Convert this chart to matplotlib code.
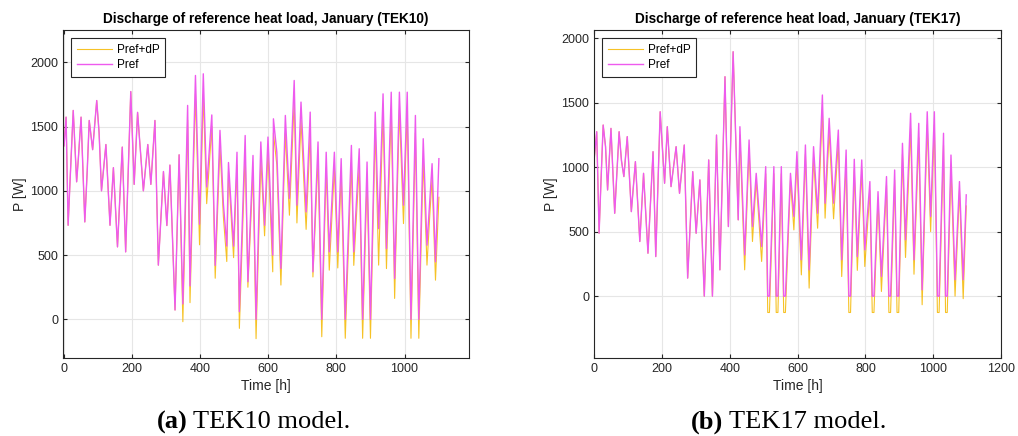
import numpy as np
import matplotlib.pyplot as plt

# TEK10: key hours, Pref and Pref+dP
t10 = [0, 6, 12, 18, 27, 37, 42, 50, 61, 68, 74, 84, 96, 103, 110, 123, 135, 145, 157, 171,
       181, 196, 206, 216, 233, 246, 255, 267, 277, 292, 302, 311, 326, 338, 349, 363, 370, 386,
       398, 409, 419, 434, 444, 458, 468, 478, 483, 498, 508, 515, 532, 540, 555, 564, 578, 589,
       599, 613, 615, 625, 637, 650, 662, 676, 684, 696, 711, 723, 731, 746, 757, 770, 779, 794,
       804, 814, 826, 844, 851, 867, 877, 890, 900, 914, 924, 937, 947, 961, 971, 985, 997, 1008,
       1019, 1032, 1042, 1055, 1066, 1074, 1081, 1091, 1101]
pref10 = [1350, 1573, 732, 1095, 1625, 1070, 1250, 1573, 758, 1150, 1547, 1320, 1702, 1450, 1000,
          1360, 732, 1180, 564, 1340, 525, 1772, 1050, 1610, 1000, 1360, 1050, 1547, 422, 1150,
          730, 1200, 73, 1280, 120, 1664, 260, 1897, 740, 1910, 1030, 1590, 420, 1470, 900, 570,
          1220, 570, 1300, 60, 1430, 293, 1275, 0, 1380, 732, 1418, 500, 1560, 1300, 396, 1586,
          940, 1858, 888, 1690, 836, 1612, 370, 1380, 0, 1300, 525, 1300, 525, 1250, 0, 1353, 525,
          1327, 0, 1224, 0, 1612, 706, 1754, 550, 1767, 318, 1767, 888, 1767, 0, 1586, 0, 1405,
          577, 913, 1211, 448, 1250]
prefdp10 = [1350, 1573, 732, 1095, 1625, 1070, 1250, 1573, 758, 1150, 1547, 1320, 1702, 1450, 1000,
            1360, 732, 1180, 564, 1340, 525, 1772, 1050, 1610, 1000, 1360, 1050, 1547, 422, 1150,
            730, 1200, 73, 1280, -18, 1550, 130, 1754, 580, 1750, 900, 1500, 320, 1350, 800, 450,
            1150, 480, 1200, -70, 1300, 250, 1150, -150, 1250, 650, 1300, 370, 1450, 1200, 267,
            1450, 810, 1700, 750, 1550, 700, 1450, 330, 1250, -135, 1180, 383, 1180, 400, 1130,
            -147, 1220, 420, 1200, -147, 1100, -147, 1480, 422, 1620, 395, 1630, 163, 1630, 745,
            1630, -147, 1450, -147, 1250, 422, 800, 1100, 305, 950]

# TEK17
t17 = [0, 3, 8, 15, 20, 27, 34, 40, 50, 61, 74, 81, 88, 98, 110, 122, 135, 146, 159, 174, 182,
       195, 208, 216, 227, 242, 252, 266, 276, 291, 301, 312, 325, 338, 349, 361, 371, 386, 396,
       410, 425, 430, 444, 457, 467, 478, 494, 506, 512, 517, 530, 537, 542, 552, 559, 564, 579,
       589, 598, 611, 623, 634, 647, 659, 673, 681, 693, 706, 720, 730, 743, 751, 756, 767, 776,
       789, 798, 813, 820, 825, 837, 847, 862, 869, 874, 886, 893, 898, 909, 918, 933, 943, 957,
       967, 982, 992, 1003, 1012, 1017, 1030, 1036, 1041, 1052, 1064, 1077, 1088, 1097]
pref17 = [1050, 1134, 1276, 488, 850, 1328, 1160, 824, 1302, 643, 1276, 1050, 928, 1238, 656, 1044,
          424, 953, 333, 1121, 307, 1431, 876, 1315, 850, 1160, 798, 1173, 140, 966, 488, 902, 0,
          1057, 0, 1250, 204, 1703, 540, 1897, 592, 1315, 320, 1212, 540, 953, 385, 1005, 0, 0,
          1005, 0, 0, 1005, 0, 0, 953, 618, 1121, 282, 1173, 204, 1160, 643, 1561, 721, 1380, 721,
          1289, 282, 1134, 0, 0, 1062, 307, 1057, 359, 889, 0, 0, 811, 152, 928, 0, 0, 979, 0, 0,
          1186, 437, 1419, 282, 1341, 49, 1431, 618, 1431, 0, 0, 1264, 0, 0, 1095, 127, 889, 127,
          786]
prefdp17 = [1050, 1134, 1276, 488, 850, 1328, 1160, 824, 1302, 643, 1276, 1050, 928, 1238, 656,
            1044, 424, 953, 333, 1121, 307, 1431, 876, 1315, 850, 1160, 798, 1173, 140, 966, 488,
            902, 0, 1057, 0, 1250, 204, 1703, 540, 1897, 592, 1250, 204, 1150, 424, 900, 269, 950,
            -127, -127, 950, -127, -127, 950, -127, -127, 900, 514, 1050, 165, 1100, 62, 1080, 527,
            1450, 605, 1280, 600, 1200, 152, 1050, -127, -127, 980, 200, 980, 230, 820, -127, -127,
            750, 36, 860, -127, -127, 900, -127, -127, 1100, 300, 1300, 170, 1230, -67, 1330, 501,
            1330, -127, -127, 1170, -127, -127, 1000, 0, 820, -20, 700]

plt.rcParams['font.family'] = ['Liberation Sans', 'DejaVu Sans']

fig = plt.figure(figsize=(10.18, 4.36), dpi=100)
ax1 = fig.add_axes([0.0619, 0.179, 0.399, 0.752])
ax2 = fig.add_axes([0.5835, 0.179, 0.400, 0.752])

orange = '#F5B800'
magenta = '#EE5AEE'

panels = [(ax1, t10, prefdp10, pref10, 'TEK10', (-3, 1190), (-300, 2250), [0, 200, 400, 600, 800, 1000]),
          (ax2, t17, prefdp17, pref17, 'TEK17', (0, 1200), (-480, 2065), [0, 200, 400, 600, 800, 1000, 1200])]

for ax, t, pdp, p, name, xl, yl, xt in panels:
    ax.plot(t, pdp, color=orange, lw=0.8, alpha=0.85, label='Pref+dP')
    ax.plot(t, p, color=magenta, lw=1.0, label='Pref')
    ax.set_xlim(xl)
    ax.set_ylim(yl)
    ax.set_xticks(xt)
    ax.set_yticks([0, 500, 1000, 1500, 2000])
    ax.grid(True, color='#e6e6e6', lw=0.8)
    ax.set_axisbelow(True)
    ax.tick_params(labelsize=9, direction='in', length=3, colors='#262626', top=True, right=True)
    for s in ax.spines.values():
        s.set_color('#262626')
        s.set_linewidth(0.8)
    ax.set_xlabel('Time [h]', fontsize=10, color='#262626', labelpad=3)
    ax.set_ylabel('P [W]', fontsize=10, color='#262626', labelpad=2)
    ax.set_title('Discharge of reference heat load, January (' + name + ')',
                 fontsize=9.8, fontweight='bold', pad=5)
    leg = ax.legend(loc='upper left', fontsize=8.5, fancybox=False, framealpha=1,
                    edgecolor='#262626', handlelength=3.0, handletextpad=0.4, borderpad=0.45,
                    labelspacing=0.3, borderaxespad=0.7)
    leg.get_frame().set_linewidth(0.8)

# captions
serif = ['Liberation Serif', 'DejaVu Serif']
fig.text(0.184, 0.018, '(a)', family=serif, fontsize=19, fontweight='bold', ha='right', va='baseline')
fig.text(0.190, 0.018, 'TEK10 model.', family=serif, fontsize=19, ha='left', va='baseline')
fig.text(0.710, 0.018, '(b)', family=serif, fontsize=19, fontweight='bold', ha='right', va='baseline')
fig.text(0.716, 0.018, 'TEK17 model.', family=serif, fontsize=19, ha='left', va='baseline')

fig.savefig('out.png', dpi=100)
